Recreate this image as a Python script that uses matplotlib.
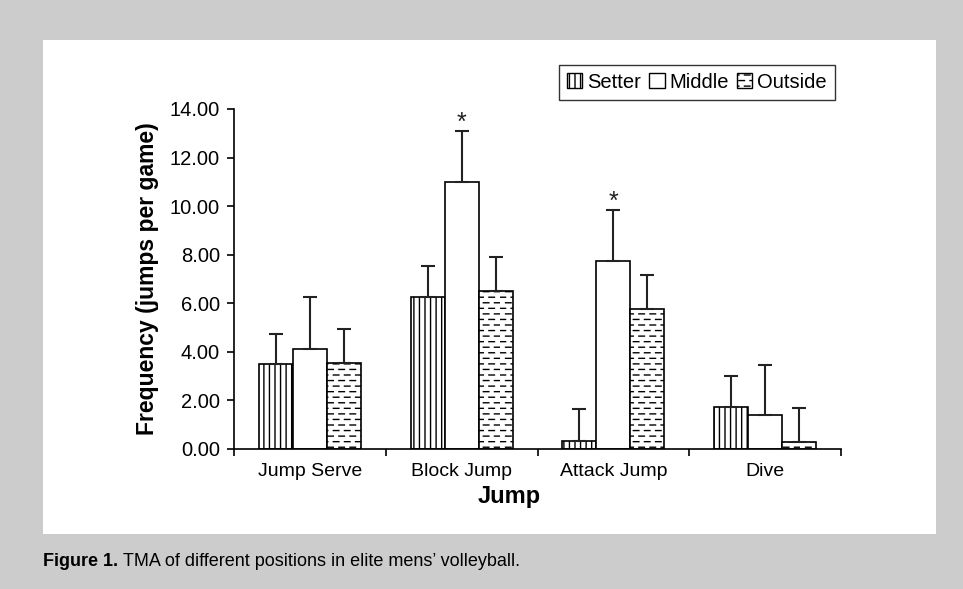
import warnings
import numpy as np
import matplotlib
matplotlib.use("Agg")
import matplotlib.pyplot as plt
from matplotlib.patches import Rectangle, Patch
from matplotlib.path import Path
import matplotlib.hatch as mhatch

warnings.filterwarnings("ignore")

# ---------------- data ----------------
categories = ["Jump Serve", "Block Jump", "Attack Jump", "Dive"]
positions = ["Setter", "Middle", "Outside"]
setter_mean = [3.50, 6.25, 0.35, 1.75]
middle_mean = [4.12, 11.00, 7.75, 1.40]
outside_mean = [3.55, 6.50, 5.75, 0.30]
setter_sd = [1.25, 1.30, 1.30, 1.25]
middle_sd = [2.13, 2.10, 2.10, 2.05]
outside_sd = [1.40, 1.40, 1.40, 1.40]
significant = [False, True, True, False]  # asterisk over Middle
yticks = [0, 2, 4, 6, 8, 10, 12, 14]


# ---------------- custom dashed hatch ----------------
class DashHatch(mhatch.HatchPatternBase):
    def __init__(self, hatch, density):
        self.num_rows = int(hatch.count('d') * density)
        self.per_row = 9
        self.num_lines = self.num_rows * self.per_row
        self.num_vertices = self.num_lines * 2

    def set_vertices_and_codes(self, vertices, codes):
        if self.num_lines == 0:
            return
        rows = (np.arange(self.num_rows) + 0.5) / self.num_rows
        period = 1.0 / self.per_row
        dash = period * 0.5
        k = 0
        for r, y in enumerate(rows):
            off = 0.0 if r % 2 == 0 else period / 2
            for j in range(self.per_row):
                x0 = (j * period + off) % 1.0
                x1 = min(x0 + dash, 1.0)
                vertices[2 * k] = (x0, y)
                vertices[2 * k + 1] = (x1, y)
                codes[2 * k] = Path.MOVETO
                codes[2 * k + 1] = Path.LINETO
                k += 1


mhatch._hatch_types.append(DashHatch)

plt.rcParams['font.family'] = ['Liberation Sans', 'DejaVu Sans']
plt.rcParams['hatch.linewidth'] = 1.0
plt.rcParams['hatch.color'] = 'black'

fig = plt.figure(figsize=(9.63, 5.89), dpi=100)
fig.patch.set_facecolor('#cccccc')
W, H = 963, 589
fig.patches.append(Rectangle((43 / W, 1 - 534 / H), (936 - 43) / W, (534 - 40) / H,
                             transform=fig.transFigure, facecolor='white',
                             edgecolor='none', zorder=-5))

ax = fig.add_axes([234 / W, 1 - 449 / H, (841 - 234) / W, (449 - 109) / H])
ax.set_facecolor('none')
ax.set_zorder(2)

x = np.arange(len(categories))
bw = 0.224
hatches = ['|||', '', 'ddd']
means = [setter_mean, middle_mean, outside_mean]
sds = [setter_sd, middle_sd, outside_sd]
for i, (m, s, h) in enumerate(zip(means, sds, hatches)):
    xs = x + (i - 1) * bw
    ax.bar(xs, m, width=bw, color='white', edgecolor='black', hatch=h,
           linewidth=1.2, zorder=2)
    ax.errorbar(xs, m, yerr=[np.zeros(len(m)), s], fmt='none', ecolor='#222222',
                elinewidth=1.5, capsize=5, capthick=1.5, zorder=3)

for xi, sig, m, s in zip(x, significant, middle_mean, middle_sd):
    if sig:
        ax.text(xi, m + s - 0.15, '*', ha='center', va='bottom', fontsize=18,
                color='#222222')

ax.set_xlim(-0.5, len(categories) - 0.5)
ax.set_ylim(0, 14)
ax.set_yticks(yticks)
ax.set_yticklabels([f"{v:.2f}" for v in yticks], fontsize=14.5)
ax.set_xticks(np.arange(len(categories) + 1) - 0.5)
ax.set_xticklabels([])
ax.set_xticks(x, minor=True)
ax.set_xticklabels(categories, minor=True, fontsize=14)
ax.tick_params(axis='x', which='minor', length=0, pad=10)
ax.tick_params(axis='y', which='major', pad=5)
ax.tick_params(axis='both', which='major', direction='out', length=5, width=1.2)
for sp in ['top', 'right']:
    ax.spines[sp].set_visible(False)
for sp in ['left', 'bottom']:
    ax.spines[sp].set_linewidth(1.2)

ax.set_ylabel('Frequency (jumps per game)', fontsize=16.5, fontweight='bold', labelpad=8)
ax.set_xlabel('Jump', fontsize=17, fontweight='bold', labelpad=0)
ax.xaxis.set_label_coords(0.453, -0.105)

handles = [Patch(facecolor='white', edgecolor='black', hatch=h, linewidth=1.0)
           for h in hatches]
leg = ax.legend(handles, positions, ncol=3, loc='upper right',
                bbox_to_anchor=(0.99, 1.13), fontsize=14.5, frameon=True,
                fancybox=False, edgecolor='black', handlelength=0.75,
                handleheight=0.75, handletextpad=0.25, columnspacing=0.4,
                borderpad=0.4, borderaxespad=0)
leg.get_frame().set_linewidth(1.0)

# caption
fig.canvas.draw()
r = fig.canvas.get_renderer()
t1 = fig.text(43 / W, 1 - 566 / H, 'Figure 1.', fontsize=13, fontweight='bold',
              va='baseline', ha='left')
bb = t1.get_window_extent(r)
fig.text((bb.x1 + 5) / W, 1 - 566 / H, 'TMA of different positions in elite mens\u2019 volleyball.',
         fontsize=13, va='baseline', ha='left')

fig.savefig('out.png', dpi=100, facecolor=fig.get_facecolor())
